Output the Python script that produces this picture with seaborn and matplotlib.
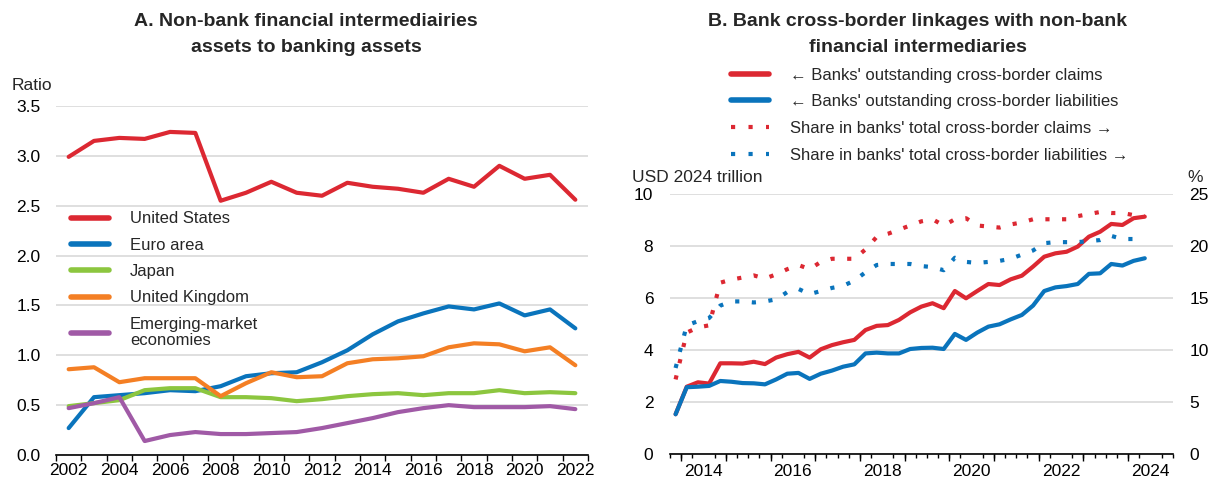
import numpy as np
import pandas as pd
import matplotlib
matplotlib.use("Agg")
import matplotlib.pyplot as plt
import seaborn as sns
from matplotlib.lines import Line2D

# ---------------- Data: panel A (annual ratios) ----------------
years_a = list(range(2002, 2023))
us = [2.99, 3.15, 3.18, 3.17, 3.24, 3.23, 2.55, 2.63, 2.74, 2.63, 2.60, 2.73,
      2.69, 2.67, 2.63, 2.77, 2.69, 2.90, 2.77, 2.81, 2.56]
euro = [0.27, 0.58, 0.60, 0.62, 0.65, 0.64, 0.69, 0.79, 0.82, 0.83, 0.93, 1.05,
        1.21, 1.34, 1.42, 1.49, 1.46, 1.52, 1.40, 1.46, 1.27]
japan = [0.49, 0.52, 0.55, 0.65, 0.67, 0.67, 0.58, 0.58, 0.57, 0.54, 0.56, 0.59,
         0.61, 0.62, 0.60, 0.62, 0.62, 0.65, 0.62, 0.63, 0.62]
uk = [0.86, 0.88, 0.73, 0.77, 0.77, 0.77, 0.59, 0.72, 0.83, 0.78, 0.79, 0.92,
      0.96, 0.97, 0.99, 1.08, 1.12, 1.11, 1.04, 1.08, 0.90]
eme = [0.47, 0.52, 0.58, 0.14, 0.20, 0.23, 0.21, 0.21, 0.22, 0.23, 0.27, 0.32,
       0.37, 0.43, 0.47, 0.50, 0.48, 0.48, 0.48, 0.49, 0.46]
series_a = ["United States", "Euro area", "Japan", "United Kingdom",
            "Emerging-market\neconomies"]
ticks_a = [2002, 2004, 2006, 2008, 2010, 2012, 2014, 2016, 2018, 2020, 2022]

# ---------------- Data: panel B (quarterly) ----------------
quarters = pd.period_range("2013Q4", "2024Q2", freq="Q")
claims = [1.54, 2.60, 2.77, 2.72, 3.50, 3.50, 3.49, 3.56, 3.47, 3.72, 3.85, 3.94,
          3.72, 4.04, 4.20, 4.31, 4.40, 4.78, 4.94, 4.97, 5.17, 5.46, 5.68, 5.81,
          5.62, 6.28, 6.00, 6.28, 6.55, 6.51, 6.73, 6.87, 7.22, 7.60, 7.73, 7.79,
          7.99, 8.37, 8.56, 8.86, 8.82, 9.08, 9.14]
liabilities = [1.54, 2.58, 2.60, 2.63, 2.82, 2.79, 2.74, 2.73, 2.69, 2.88, 3.10, 3.13,
               2.90, 3.10, 3.22, 3.37, 3.46, 3.88, 3.91, 3.88, 3.88, 4.05, 4.09, 4.10,
               4.05, 4.63, 4.40, 4.68, 4.91, 5.00, 5.19, 5.36, 5.72, 6.28, 6.42, 6.47,
               6.55, 6.94, 6.96, 7.32, 7.26, 7.44, 7.54]
share_claims = [7.2, 11.7, 12.2, 12.4, 16.5, 16.8, 17.0, 17.2, 16.9, 17.3, 17.8, 18.2,
                17.8, 18.5, 18.8, 18.8, 18.8, 19.7, 20.9, 21.2, 21.6, 22.0, 22.4, 22.6,
                22.0, 22.6, 22.7, 22.0, 21.9, 21.8, 22.1, 22.3, 22.6, 22.6, 22.6, 22.6,
                22.9, 23.1, 23.3, 23.2, 23.2, 23.0, 22.9]
share_liabs = [8.3, 12.4, 12.8, 13.1, 14.3, 14.7, 14.7, 14.6, 14.7, 14.9, 15.6, 15.9,
               15.4, 15.7, 16.0, 16.2, 16.7, 17.5, 18.2, 18.3, 18.3, 18.3, 18.1, 18.0,
               17.7, 18.9, 18.5, 18.4, 18.5, 18.6, 18.8, 19.2, 19.6, 20.3, 20.4, 20.4,
               20.4, 20.5, 20.6, 21.0, 20.7, 20.7, 20.7]
labels_b = ["\u2190 Banks' outstanding cross-border claims",
            "\u2190 Banks' outstanding cross-border liabilities",
            "Share in banks' total cross-border claims \u2192",
            "Share in banks' total cross-border liabilities \u2192"]
ticks_b = [2014, 2016, 2018, 2020, 2022, 2024]

# ---------------- Style ----------------
RED = "#DC2832"
BLUE = "#0A74BC"
GREEN = "#8CC63F"
ORANGE = "#F47F24"
PURPLE = "#A05AA6"
GRID = "#D9D9D9"

sns.set_theme(style="white")
plt.rcParams["font.family"] = ["Liberation Sans", "DejaVu Sans"]
plt.rcParams["axes.unicode_minus"] = False

W, H = 1209, 478
fig = plt.figure(figsize=(W / 100, H / 100), dpi=100)

# ---------------- Panel A ----------------
axA = fig.add_axes([56 / W, (H - 455) / H, 532 / W, 349 / H])
dfA = pd.DataFrame({"year": years_a, series_a[0]: us, series_a[1]: euro,
                    series_a[2]: japan, series_a[3]: uk, series_a[4]: eme})
dfA = dfA.melt(id_vars="year", var_name="series", value_name="value")
pal_a = dict(zip(series_a, [RED, BLUE, GREEN, ORANGE, PURPLE]))
sns.lineplot(data=dfA, x="year", y="value", hue="series", hue_order=series_a,
             palette=pal_a, linewidth=3.0, ax=axA, legend=False)
axA.set_xlim(2001.5, 2022.5)
axA.set_ylim(0, 3.5)
axA.set_yticks(np.arange(0, 3.51, 0.5))
axA.set_yticklabels([f"{v:.1f}" for v in np.arange(0, 3.51, 0.5)])
axA.set_xticks(ticks_a)
axA.set_xticklabels([str(t) for t in ticks_a])
axA.set_xticks(np.arange(2001.5, 2022.6, 1.0), minor=True)
axA.tick_params(axis="x", which="major", length=0, pad=6, labelsize=12.5, colors="black")
axA.tick_params(axis="x", which="minor", length=4, width=1, direction="out",
                bottom=True, color="black")
axA.tick_params(axis="y", length=0, pad=11, labelsize=12.5, colors="black")
axA.grid(axis="y", color=GRID, linewidth=1.2)
axA.grid(axis="x", visible=False)
axA.set_axisbelow(True)
for s in ["left", "right", "top"]:
    axA.spines[s].set_visible(False)
axA.spines["bottom"].set_color("black")
axA.spines["bottom"].set_linewidth(1.2)
axA.set_xlabel("")
axA.set_ylabel("")

handles_a = [Line2D([0], [0], color=pal_a[s], lw=4) for s in series_a]
legA = axA.legend(handles_a, series_a, loc="upper left", bbox_to_anchor=(0.012, 0.722),
                  frameon=False, fontsize=12, handlelength=2.3, handletextpad=1.25,
                  labelspacing=0.68, borderaxespad=0.3, borderpad=0.2)
for t in legA.get_texts():
    t.set_linespacing(1.12)

fig.text(12 / W, 1 - 85 / H, "Ratio", fontsize=12.5, ha="left", va="center")
fig.text(306 / W, 1 - 13 / H,
         "A. Non-bank financial intermediairies\nassets to banking assets",
         fontsize=14, weight="bold", ha="center", va="top", linespacing=1.72)

# ---------------- Panel B ----------------
axB = fig.add_axes([670 / W, (H - 454.3) / H, 502.7 / W, 260 / H])
xq = quarters.year + (quarters.quarter - 0.5) / 4.0
dfB = pd.DataFrame({"t": xq, "claims": claims, "liabs": liabilities,
                    "sclaims": share_claims, "sliabs": share_liabs})
sns.lineplot(data=dfB, x="t", y="claims", color=RED, linewidth=3.0, ax=axB)
sns.lineplot(data=dfB, x="t", y="liabs", color=BLUE, linewidth=3.0, ax=axB)
axB2 = axB.twinx()
dots = (0, (1, 3.0))
sns.lineplot(data=dfB, x="t", y="sclaims", color=RED, linewidth=3.0,
             linestyle=dots, ax=axB2)
sns.lineplot(data=dfB, x="t", y="sliabs", color=BLUE, linewidth=3.0,
             linestyle=dots, ax=axB2)

axB.set_xlim(2013.75, 2025.0)
axB.set_ylim(0, 10)
axB2.set_ylim(0, 25)
axB.set_yticks([0, 2, 4, 6, 8, 10])
axB2.set_yticks([0, 5, 10, 15, 20, 25])
axB.set_xticks([t + 0.5 for t in ticks_b])
axB.set_xticklabels([str(t) for t in ticks_b])
axB.set_xticks(np.arange(2013.75, 2025.01, 0.25), minor=True)
axB.tick_params(axis="x", which="major", length=0, pad=7, labelsize=12.5, colors="black")
axB.tick_params(axis="x", which="minor", length=3, width=1, direction="out",
                bottom=True, color="black")
axB.tick_params(axis="y", length=0, pad=12, labelsize=12.5, colors="black")
axB2.tick_params(axis="y", length=0, pad=12, labelsize=12.5, colors="black")
# taller ticks at year boundaries
sec = axB.secondary_xaxis("bottom")
sec.set_xticks(np.arange(2014, 2025, 1.0))
sec.set_xticklabels([])
sec.tick_params(axis="x", length=5, width=1, direction="out", color="black")
sec.spines["bottom"].set_visible(False)

axB.grid(axis="y", color=GRID, linewidth=1.2)
axB.grid(axis="x", visible=False)
axB2.grid(False)
axB.set_axisbelow(True)
for a in (axB, axB2):
    for s in ["left", "right", "top"]:
        a.spines[s].set_visible(False)
    a.set_xlabel("")
    a.set_ylabel("")
axB2.spines["bottom"].set_visible(False)
axB.spines["bottom"].set_color("black")
axB.spines["bottom"].set_linewidth(1.2)

handles_b = [Line2D([0], [0], color=RED, lw=4),
             Line2D([0], [0], color=BLUE, lw=4),
             Line2D([0], [0], color=RED, lw=3.0, linestyle=(0, (1, 3.2))),
             Line2D([0], [0], color=BLUE, lw=3.0, linestyle=(0, (1, 3.2)))]
axB2.legend(handles_b, labels_b, loc="upper left", bbox_to_anchor=(0.115, 1.50),
            frameon=False, fontsize=12, handlelength=2.3, handletextpad=1.25,
            labelspacing=0.7, borderaxespad=0.0, borderpad=0.2)

fig.text(632 / W, 1 - 178 / H, "USD 2024 trillion", fontsize=12.5, ha="left", va="center")
fig.text(1203 / W, 1 - 178 / H, "%", fontsize=12.5, ha="right", va="center")
fig.text(918 / W, 1 - 13 / H,
         "B. Bank cross-border linkages with non-bank\nfinancial intermediaries",
         fontsize=14, weight="bold", ha="center", va="top", linespacing=1.72)

fig.savefig("out.png", dpi=100, facecolor="white")
